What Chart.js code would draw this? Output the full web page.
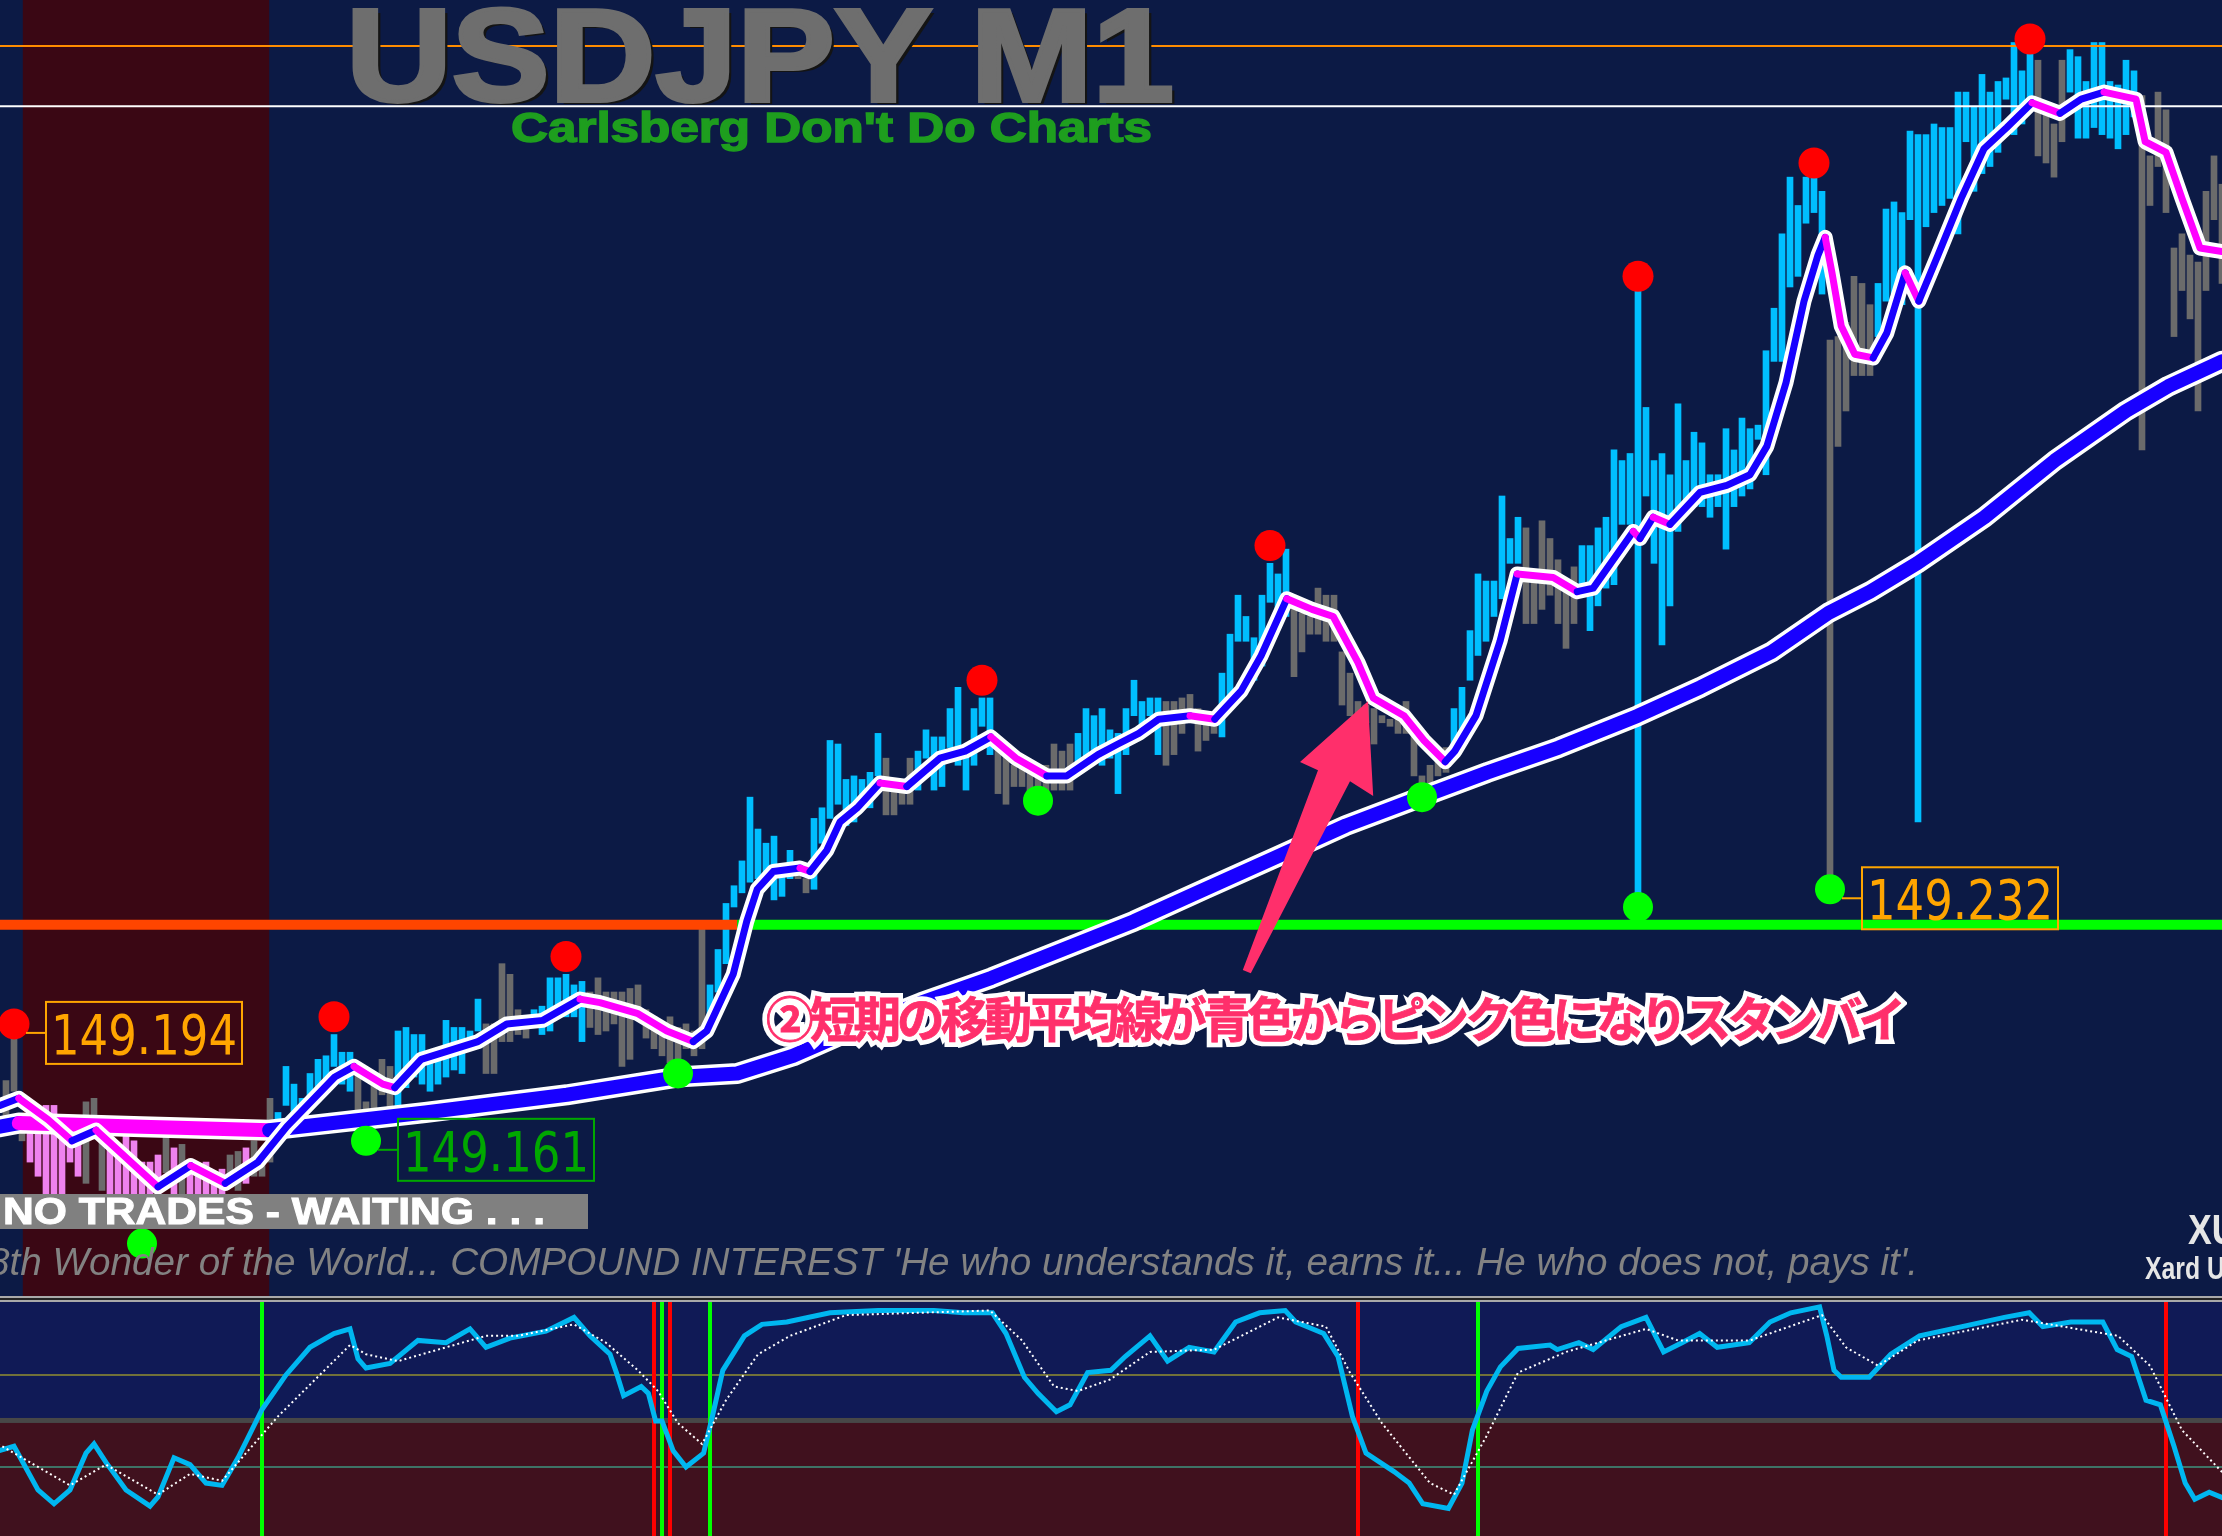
<!DOCTYPE html>
<html lang="ja">
<head>
<meta charset="UTF-8">
<title>USDJPY M1</title>
<script src="https://cdn.jsdelivr.net/npm/chart.js"></script>
<style>
  html, body { margin: 0; padding: 0; background: #000; }
  body { width: 2222px; height: 1536px; position: relative; overflow: hidden; }
  canvas { position: absolute; left: 0; display: block; }
  #mainChart { top: 0; background: #0c1a45; }
  #oscChart { top: 1302px; background: #101a56; }
  .sep { position: absolute; left: 0; width: 2222px; height: 2px; background: #a9a9a9; }
  .txt { position: absolute; white-space: nowrap; line-height: 1; font-family: "Liberation Sans", Arial, sans-serif; }
  #title { left: 346px; top: -10px; font-size: 132px; font-weight: bold; color: #6e6e6e;
           -webkit-text-stroke: 4px #6e6e6e; text-shadow: 4px 3px 0 #141414; }
  #subtitle { left: 511px; top: 106px; font-size: 43px; font-weight: bold; color: #1e9e1e; -webkit-text-stroke: 1.5px #1e9e1e; }
  #banner { position: absolute; left: 0; top: 1194px; width: 588px; height: 35px; background: #808080; }
  #bannerText { left: 3px; top: 1193px; font-size: 37px; font-weight: bold; color: #fff; -webkit-text-stroke: 1px #fff; }
  #quote { left: -12px; top: 1243px; font-size: 38px; font-style: italic; color: #828282; }
  #xu { left: 2188px; top: 1209px; font-size: 42px; font-weight: bold; color: #e6e6e6; transform: scaleX(0.85); transform-origin: left top; }
  #xard { left: 2145px; top: 1253px; font-size: 31px; font-weight: bold; color: #e6e6e6; transform: scaleX(0.8); transform-origin: left top; }
  .jp { position: absolute; left: 766px; top: 993px; white-space: nowrap; line-height: 1;
        font-family: "Noto Sans CJK JP", sans-serif; font-weight: 700; font-size: 47.5px; }
  .jp-back { color: #fff; -webkit-text-stroke: 10px #fff; }
  .jp-front { color: #ff2f6b; -webkit-text-stroke: 0.8px #ff2f6b; }
</style>
</head>
<body>
<canvas id="mainChart" width="2222" height="1296"></canvas>
<div style="position:absolute;left:0;top:1296px;width:2222px;height:6px;background:#232323"></div>
<div class="sep" style="top:1296px"></div>
<div class="sep" style="top:1300px"></div>
<canvas id="oscChart" width="2222" height="234"></canvas>

<div class="txt" id="title">USDJPY M1</div>
<div class="txt" id="subtitle">Carlsberg Don't Do Charts</div>
<div id="banner"></div>
<div class="txt" id="bannerText">NO TRADES - WAITING . . .</div>
<div class="txt" id="quote">8th Wonder of the World... COMPOUND INTEREST 'He who understands it, earns it... He who does not, pays it'.</div>
<div class="txt" id="xu">XU</div>
<div class="txt" id="xard">Xard Universal</div>
<div class="jp jp-back" id="jpBack">②短期の移動平均線が青色からピンク色になりスタンバイ</div>
<div class="jp jp-front" id="jpFront">②短期の移動平均線が青色からピンク色になりスタンバイ</div>

<script>
// ---- price bars (M1), bar index 0..277 ----
const barHigh = [
  149.179,149.191,149.166,149.170,149.166,149.172,149.172,149.163,149.164,149.162,
  149.173,149.174,149.169,149.163,149.161,149.165,149.162,149.156,149.156,149.158,
  149.164,149.160,149.161,149.156,149.154,149.156,149.152,149.154,149.158,149.159,
  149.160,149.162,149.158,149.174,149.170,149.183,149.178,149.174,149.181,149.185,
  149.186,149.192,149.187,149.187,149.183,149.173,149.178,149.185,149.183,149.193,
  149.194,149.192,149.192,149.185,149.188,149.196,149.194,149.194,149.193,149.202,
  149.195,149.195,149.212,149.209,149.199,149.197,149.199,149.200,149.208,149.208,
  149.209,149.206,149.207,149.204,149.208,149.204,149.204,149.204,149.205,149.206,
  149.199,149.197,149.194,149.197,149.194,149.195,149.193,149.222,149.206,149.216,
  149.229,149.234,149.241,149.259,149.250,149.246,149.248,149.240,149.244,149.240,
  149.236,149.253,149.256,149.275,149.274,149.264,149.265,149.264,149.266,149.277,
  149.270,149.264,149.262,149.270,149.272,149.278,149.276,149.276,149.284,149.290,
  149.272,149.284,149.287,149.287,149.273,149.271,149.268,149.268,149.266,149.265,
  149.268,149.274,149.272,149.274,149.277,149.284,149.282,149.284,149.278,149.277,
  149.284,149.292,149.286,149.287,149.287,149.286,149.286,149.287,149.288,149.284,
  149.282,149.282,149.294,149.305,149.316,149.310,149.304,149.316,149.325,149.322,
  149.329,149.312,149.311,149.310,149.318,149.316,149.316,149.300,149.294,149.286,
  149.285,149.284,149.282,149.281,149.282,149.286,149.278,149.265,149.268,149.273,
  149.273,149.284,149.290,149.306,149.322,149.320,149.320,149.344,149.332,149.338,
  149.335,149.322,149.337,149.332,149.326,149.318,149.324,149.330,149.330,149.335,
  149.338,149.357,149.354,149.356,149.402,149.369,149.354,149.356,149.350,149.370,
  149.354,149.362,149.359,149.350,149.350,149.363,149.357,149.366,149.363,149.364,
  149.385,149.397,149.418,149.434,149.426,149.434,149.434,149.430,149.388,149.389,
  149.393,149.406,149.404,149.398,149.404,149.425,149.427,149.424,149.447,149.446,
  149.446,149.449,149.448,149.448,149.458,149.458,149.454,149.463,149.458,149.461,
  149.462,149.472,149.464,149.470,149.467,149.452,149.449,149.467,149.470,149.468,
  149.461,149.472,149.472,149.461,149.460,149.467,149.464,149.457,149.440,149.458,
  149.453,149.414,149.418,149.412,149.410,149.430,149.440,149.432
];
const barLow = [
  149.168,149.176,149.162,149.156,149.152,149.146,149.146,149.145,149.156,149.152,
  149.150,149.165,149.148,149.144,149.143,149.142,149.140,149.137,149.142,149.144,
  149.153,149.146,149.144,149.145,149.143,149.144,149.142,149.144,149.149,149.148,
  149.150,149.152,149.152,149.156,149.162,149.172,149.169,149.168,149.172,149.174,
  149.176,149.183,149.178,149.176,149.169,149.166,149.169,149.175,149.167,149.169,
  149.177,149.180,149.178,149.176,149.178,149.180,149.182,149.181,149.188,149.193,
  149.181,149.181,149.190,149.190,149.192,149.191,149.194,149.192,149.193,149.198,
  149.197,149.197,149.190,149.194,149.192,149.193,149.195,149.183,149.185,149.199,
  149.191,149.188,149.186,149.184,149.183,149.188,149.186,149.188,149.194,149.204,
  149.212,149.228,149.232,149.235,149.236,149.236,149.230,149.231,149.236,149.236,
  149.232,149.233,149.246,149.253,149.257,149.251,149.252,149.256,149.256,149.265,
  149.254,149.254,149.257,149.257,149.261,149.270,149.261,149.262,149.273,149.268,
  149.261,149.268,149.279,149.271,149.260,149.257,149.262,149.262,149.260,149.260,
  149.257,149.261,149.261,149.261,149.268,149.270,149.270,149.268,149.270,149.260,
  149.271,149.282,149.277,149.282,149.271,149.268,149.271,149.277,149.280,149.272,
  149.275,149.277,149.276,149.284,149.303,149.303,149.292,149.296,149.314,149.308,
  149.310,149.293,149.300,149.305,149.305,149.303,149.303,149.285,149.282,149.282,
  149.280,149.274,149.280,149.279,149.277,149.277,149.265,149.262,149.263,149.265,
  149.266,149.272,149.277,149.292,149.299,149.303,149.310,149.315,149.325,149.325,
  149.308,149.308,149.312,149.316,149.308,149.301,149.308,149.318,149.306,149.313,
  149.318,149.319,149.336,149.336,149.228,149.344,149.325,149.302,149.313,149.334,
  149.339,149.341,149.341,149.338,149.341,149.329,149.341,149.344,149.346,149.360,
  149.350,149.382,149.382,149.403,149.406,149.421,149.424,149.401,149.234,149.358,
  149.368,149.378,149.378,149.378,149.389,149.399,149.401,149.398,149.422,149.252,
  149.420,149.424,149.426,149.428,149.418,149.444,149.430,149.435,149.437,149.441,
  149.456,149.446,149.449,149.456,149.440,149.438,149.434,149.444,149.458,149.445,
  149.445,149.448,149.446,149.445,149.442,149.446,149.451,149.357,149.426,149.437,
  149.424,149.389,149.402,149.394,149.368,149.402,149.422,149.404
];
// u = up bar, d = down bar, v = bar inside the shaded session
const barDir = ("ddd vvvvvvv ddd vvvvvvv d v d vvvvv dd v ddd uuuuuuuuuu ddddd uuuuuuuuuuu dddddd " +
  "uuuuuuu ddddddddddddddd uuuuuuuuuuu dd uuuuuuuuu dddd uuuuuuuuuu dddddddddd uuuuuuuuuuu ddddddd " +
  "uuuuuuuuu dddddddddddddddddddd uuuuuuuuu ddddddd uuuuuuuuuuuuuuuuuuuuuuuuuuuuuuu dddddd " +
  "uuuuuuuuuuuuuuuuuuuu dddd uuuuuuuuu ddddddddddd").replace(/ /g, "").split("");

// ---- moving averages ----
const maFastX = [-0.75,1.6,5.25,8.25,11.25,19,23.1,27.4,31.5,35.1,41.1,43.5,47.1,48.6,51.9,59,62.6,67.1,71.75,74.25,
  78.9,82.6,85.9,87.6,90.9,92.6,93.9,95.9,99.25,100.5,102.6,104.25,106.4,109.25,112.6,116.75,119.9,123.1,126.25,130.1,
  132.6,136.5,139,141.6,144.1,148,151.1,154.4,156.9,160.1,163.25,165.9,169,170.9,174.75,177.25,179.9,181.1,183.75,186.75,
  188.9,193.4,196.4,198.4,203.4,204.25,205.9,208,211.75,215.1,218,220.1,222.5,224.75,226.5,227.4,228.25,229.4,231.1,233.4,
  235.1,237.4,239.1,241.5,244.4,247.25,250.1,253.25,256.75,259.4,262.25,266.25,267.4,270,272,274.25,277];
const maFastP = [149.172,149.174,149.168,149.162,149.165,149.149,149.155,149.150,149.156,149.166,149.180,149.183,149.178,149.177,149.185,149.190,149.195,149.196,149.202,149.201,
  149.198,149.193,149.190,149.193,149.209,149.224,149.233,149.238,149.239,149.238,149.244,149.252,149.256,149.263,149.262,149.270,149.272,149.276,149.270,149.265,
  149.265,149.271,149.274,149.277,149.281,149.282,149.281,149.289,149.299,149.315,149.312,149.310,149.297,149.287,149.282,149.275,149.269,149.272,149.282,149.303,
  149.322,149.321,149.317,149.318,149.334,149.332,149.338,149.336,149.345,149.347,149.350,149.358,149.376,149.399,149.412,149.417,149.407,149.392,149.384,149.383,
  149.390,149.407,149.399,149.412,149.428,149.442,149.448,149.455,149.452,149.456,149.458,149.456,149.444,149.441,149.428,149.414,149.413];
const maSlowX = [-0.75,1.6,17,32.9,52.4,70.1,83.9,91.4,98.4,105.5,114.4,123.2,132.1,141,149.8,158.7,167.5,176.9,185.2,194.1,
  204,211.8,220.7,227.8,233,238.9,247.3,256.1,265,270.3,277];
const maSlowP = [149.166,149.167,149.166,149.165,149.170,149.175,149.180,149.181,149.186,149.193,149.201,149.208,149.216,149.224,149.233,149.242,149.251,149.259,149.266,149.273,
  149.282,149.290,149.300,149.311,149.317,149.325,149.338,149.354,149.368,149.375,149.382];

// ---- fractal dots ----
const redDotIdx = [1, 41, 70, 122, 158, 204, 226, 253];
const redDotPrice = [149.195, 149.197, 149.214, 149.292, 149.330, 149.406, 149.438, 149.473];
const greenDotIdx = [17, 45, 84, 129, 177, 204, 228];
const greenDotPrice = [149.133, 149.162, 149.181, 149.258, 149.259, 149.228, 149.233];

// ---- price tags next to dots ----
const tagIdx = [1, 45, 228];
const tagAnchor = [149.195, 149.162, 149.233];
const tagValue = [149.194, 149.161, 149.232];
const tagColor = ["#ffa500", "#00a800", "#ffa500"];

// ---- levels / session ----
const levelOrange = 149.471;
const levelWhite = 149.454;
const levelSupport = 149.223;
const supportSwitchIdx = 91.4;
const sessionFrom = 2.1, sessionTo = 32.9;

// ---- annotation arrow (bar index, price) ----
const arrowIdx = [154.6, 164.0, 161.75, 170.25, 170.9, 168.0, 155.6];
const arrowPrice = [149.2102, 149.2666, 149.2689, 149.2861, 149.2593, 149.2635, 149.2093];

// ---- stochastic sub-window ----
const stochKx = [-1,1,4,6,8,10,11,12.5,15,18,19,21,23,25,27,29,32,35,38,41,43,44,45,48,51.5,55,58,60,63,67.5,
  71,73,75.5,76.3,77.2,79.4,80.3,81.2,82,83.4,85,87.2,88.3,89.6,92.3,94.5,97.6,103,109,116,
  119.7,123.3,125,127.3,129,131.3,133,135.2,138.1,139.9,143,145.2,147.9,151,153.7,156.7,159.9,161.2,164.7,166.5,
  168.3,170,173.5,175.4,177.1,180.3,182,183.3,185.1,186.8,189,193,193.9,196.6,198.4,201.9,205,207.2,209.5,211.7,
  213.9,217.9,220.5,223.1,226.7,227.6,228.5,229.4,232.9,235.6,239.2,244.5,249.8,252.9,254.6,258.1,262.1,263.9,265.7,267.5,
  269.3,271,272.4,273.6,275.4,277.5];
const stochKv = [37,39,20,14,20,36,40,32,20,13,17,34,31,23,22,34,55,70,82,88,90,77,73,75,85,84,90,82,86,89,
  95,87,79,71,61,65,62,50,50,37,30,36,52,72,87,92,93,97,98,98,
  97,97,88,69,62,54,57,71,72,78,87,76,82,80,93,97,98,93,88,78,
  52,36,28,23,14,12,23,46,63,73.5,81.5,83,81,84,81,91,95,80,84,88,
  82,84,93,97,99.6,87,72,69,69,79,87,91,95,97,91,93,93,81,78,59,
  57,39,23,16,19,16];
const stochDx = [-1,8,12.5,19,23,27,34,43,45,49,60,64,71,75,79,81.5,84,87,90,94,98,105,123,127,131,134,138,143,151,159,
  165,168,172,178,181,185,189,195,205,209,218,227,230,234,239,252,264,268,272,277.5];
const stochDv = [40,22,31,18,27,24,52,83,79,76,87,87,92,84,72,63,49,40,59,79,87,96,98,85,65,63,68,80,81,95,
  91,71,49,23,18,43,71,80,90,85,85,96,82,74,85,94,87,74,46,26];
const signalIdx = [32, 81, 82, 83, 88, 169, 184, 270];
const signalType = ["buy", "sell", "buy", "sell", "buy", "sell", "buy", "sell"];

// colours
const UP = "#00bfff", DOWN = "#6b6b6b", VIOLET = "#ee82ee";
const MA_UP = "#1800ff", MA_DN = "#ff00ff";

const slopeColor = c => c.p1.parsed.y < c.p0.parsed.y ? MA_DN : MA_UP;
const pts = (xs, ys) => xs.map((x, i) => ({ x: x, y: ys[i] }));

const bars = barHigh.map((h, i) => ({ x: i, y: [barLow[i], h] }));
const barColors = barDir.map(d => d === "u" ? UP : (d === "d" ? DOWN : VIOLET));

function hline(ctx, y, x0, x1, color, w) {
  ctx.strokeStyle = color;
  ctx.lineWidth = w;
  ctx.beginPath();
  ctx.moveTo(x0, y);
  ctx.lineTo(x1, y);
  ctx.stroke();
}

const mainObjects = {
  id: "mainObjects",
  beforeDatasetsDraw(chart) {
    const { ctx, chartArea: a, scales: { x } } = chart;
    const x0 = x.getPixelForValue(sessionFrom), x1 = x.getPixelForValue(sessionTo);
    ctx.save();
    ctx.fillStyle = "#3a0714";
    ctx.fillRect(x0, a.top, x1 - x0, a.bottom - a.top);
    ctx.restore();
  },
  afterDatasetDraw(chart, args) {
    if (args.meta.type !== "bar") return;
    const { ctx, chartArea: a, scales: { x, y } } = chart;
    ctx.save();
    hline(ctx, y.getPixelForValue(levelOrange), a.left, a.right, "#ff8c00", 2);
    hline(ctx, y.getPixelForValue(levelWhite), a.left, a.right, "#ffffff", 2);
    const ys = y.getPixelForValue(levelSupport);
    const xs = x.getPixelForValue(supportSwitchIdx);
    hline(ctx, ys, a.left, xs, "#ff4500", 10);
    hline(ctx, ys, xs, a.right, "#00ff00", 10);
    ctx.restore();
  },
  afterDatasetsDraw(chart) {
    const { ctx, scales: { x, y } } = chart;
    ctx.save();
    // pink arrow
    ctx.fillStyle = "#ff2f6b";
    ctx.beginPath();
    arrowIdx.forEach((v, k) => {
      const px = x.getPixelForValue(v), py = y.getPixelForValue(arrowPrice[k]);
      if (k === 0) ctx.moveTo(px, py); else ctx.lineTo(px, py);
    });
    ctx.closePath();
    ctx.fill();
    // price tags
    tagIdx.forEach((v, k) => {
      const cx = x.getPixelForValue(v), cy = y.getPixelForValue(tagAnchor[k]);
      const bx = cx + 32, bw = 196, bh = 62, my = cy + 9, by = my - bh / 2;
      ctx.strokeStyle = tagColor[k];
      ctx.lineWidth = 2;
      ctx.beginPath();
      ctx.moveTo(cx + 12, my);
      ctx.lineTo(bx, my);
      ctx.stroke();
      ctx.strokeRect(bx, by, bw, bh);
      const txt = tagValue[k].toFixed(3);
      ctx.font = '55px "DejaVu Sans Condensed", "DejaVu Sans", sans-serif';
      const w = ctx.measureText(txt).width;
      ctx.save();
      ctx.translate(bx + 5, my + 21);
      ctx.scale(186 / w, 1);
      ctx.fillStyle = tagColor[k];
      ctx.fillText(txt, 0, 0);
      ctx.restore();
    });
    ctx.restore();
  }
};

new Chart(document.getElementById("mainChart"), {
  type: "bar",
  data: {
    datasets: [
      { type: "bar", data: bars, backgroundColor: barColors, barThickness: 6, borderWidth: 0, grouped: false, order: 6 },
      { type: "line", data: pts(maSlowX, maSlowP), borderColor: "#ffffff", borderWidth: 21, pointRadius: 0,
        borderCapStyle: "round", borderJoinStyle: "round", order: 5 },
      { type: "line", data: pts(maSlowX, maSlowP), borderColor: MA_UP, borderWidth: 14, pointRadius: 0,
        borderCapStyle: "round", borderJoinStyle: "round", segment: { borderColor: slopeColor }, order: 4 },
      { type: "line", data: pts(maFastX, maFastP), borderColor: "#ffffff", borderWidth: 15, pointRadius: 0,
        borderCapStyle: "round", borderJoinStyle: "round", order: 3 },
      { type: "line", data: pts(maFastX, maFastP), borderColor: MA_UP, borderWidth: 7, pointRadius: 0,
        borderCapStyle: "round", borderJoinStyle: "round", segment: { borderColor: slopeColor }, order: 2 },
      { type: "scatter", data: pts(redDotIdx, redDotPrice), pointRadius: 15.5, backgroundColor: "#ff0000", borderWidth: 0, order: 1 },
      { type: "scatter", data: pts(greenDotIdx, greenDotPrice), pointRadius: 15, backgroundColor: "#00ff00", borderWidth: 0, order: 1 }
    ]
  },
  options: {
    responsive: false,
    animation: false,
    events: [],
    layout: { padding: 0, autoPadding: false },
    scales: {
      x: { type: "linear", min: -0.75, max: 277, display: false, offset: false },
      y: { min: 149.1182, max: 149.484, display: false }
    },
    plugins: { legend: { display: false }, tooltip: { enabled: false } }
  },
  plugins: [mainObjects]
});

const oscObjects = {
  id: "oscObjects",
  beforeDatasetsDraw(chart) {
    const { ctx, chartArea: a, scales: { x, y } } = chart;
    const ym = y.getPixelForValue(50);
    ctx.save();
    ctx.fillStyle = "#101a56";
    ctx.fillRect(a.left, a.top, a.right - a.left, ym - a.top);
    ctx.fillStyle = "#40111e";
    ctx.fillRect(a.left, ym, a.right - a.left, a.bottom - ym);
    ctx.fillStyle = "#474747";
    ctx.fillRect(a.left, ym - 3, a.right - a.left, 5);
    hline(ctx, y.getPixelForValue(70), a.left, a.right, "#717139", 2);
    hline(ctx, y.getPixelForValue(30), a.left, a.right, "#3e7366", 2);
    signalIdx.forEach((v, k) => {
      const px = x.getPixelForValue(v);
      ctx.strokeStyle = signalType[k] === "buy" ? "#00ff00" : "#ff0000";
      ctx.lineWidth = 4;
      ctx.beginPath();
      ctx.moveTo(px, a.top);
      ctx.lineTo(px, a.bottom);
      ctx.stroke();
    });
    ctx.restore();
  }
};

new Chart(document.getElementById("oscChart"), {
  type: "line",
  data: {
    datasets: [
      { data: pts(stochDx, stochDv), borderColor: "#ffffff", borderWidth: 2, borderDash: [2, 3], pointRadius: 0, order: 1 },
      { data: pts(stochKx, stochKv), borderColor: "#00b7f0", borderWidth: 5, pointRadius: 0, order: 2 }
    ]
  },
  options: {
    responsive: false,
    animation: false,
    events: [],
    layout: { padding: 0, autoPadding: false },
    scales: {
      x: { type: "linear", min: -0.75, max: 277, display: false },
      y: { min: 0, max: 101.7, display: false }
    },
    plugins: { legend: { display: false }, tooltip: { enabled: false } }
  },
  plugins: [oscObjects]
});

// stretch the overlay texts to the widths they have on the terminal
function fitSpacing(id, width) {
  const el = document.getElementById(id);
  const w = el.getBoundingClientRect().width;
  const n = el.textContent.length;
  const ls = (width - w) / (n - 1);
  el.style.letterSpacing = ls + "px";
  return ls;
}
function fitScale(id, width) {
  const el = document.getElementById(id);
  const w = el.getBoundingClientRect().width;
  el.style.transformOrigin = "left top";
  el.style.transform = "scaleX(" + (width / w) + ")";
}
fitScale("title", 828);
fitScale("subtitle", 641);
fitScale("bannerText", 542);
fitScale("quote", 1930);
const jpLs = fitSpacing("jpFront", 1140);
document.getElementById("jpBack").style.letterSpacing = jpLs + "px";
</script>
</body>
</html>
